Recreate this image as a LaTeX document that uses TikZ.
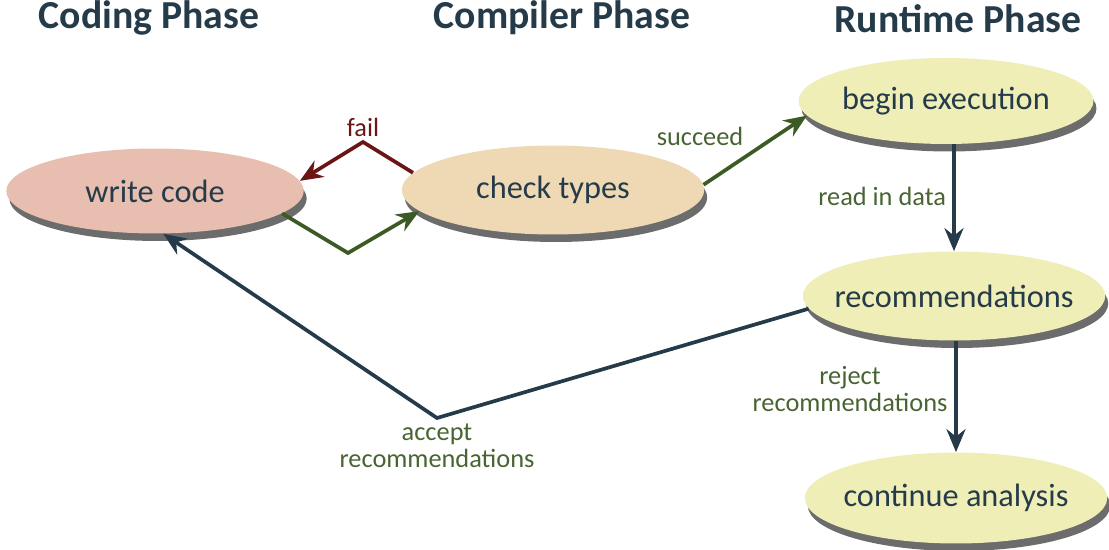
\documentclass[tikz,border=0pt]{standalone}
\usepackage{fontspec}
\setmainfont{Carlito}
\usepackage{tikz}
\usetikzlibrary{positioning,arrows.meta,shapes.geometric,shadows}

\definecolor{inkdark}{RGB}{37,59,74}
\definecolor{codefill}{RGB}{232,190,177}
\definecolor{checkfill}{RGB}{238,217,180}
\definecolor{runfill}{RGB}{239,238,182}
\definecolor{okgreen}{RGB}{60,90,35}
\definecolor{labelgreen}{RGB}{72,100,50}
\definecolor{failred}{RGB}{107,22,22}
\definecolor{shadowgray}{RGB}{108,108,108}

\begin{document}
\begin{tikzpicture}[
x=0.02cm, y=-0.02cm,
phase/.style={font=\fontsize{22.6}{26}\selectfont\bfseries, text=inkdark},
stage/.style={ellipse, minimum width=5.95cm, minimum height=1.7cm, inner xsep=-0.35cm, inner ysep=0pt, font=\fontsize{18.4}{22}\selectfont, text=inkdark, drop shadow={shadow xshift=0.06cm, shadow yshift=-0.15cm, fill=shadowgray, opacity=1}},
tag/.style={font=\fontsize{15}{15.5}\selectfont, text=labelgreen, align=center, inner sep=1pt},
arrow/.style={-{Stealth[length=4.6mm, width=3.8mm, inset=1.5mm]}, line width=2.1pt, line join=miter}
]
\useasboundingbox (0,0) rectangle (1109,550);
% phase titles
\node[phase] (codingT) at (149,18) {Coding Phase};
\node[phase] (compilerT) at (562,18) {Compiler Phase};
\node[phase] (runtimeT) at (958,19) {Runtime Phase};
% stages
\node[stage, fill=codefill] (code) at (155,191) {write code};
\node[stage, fill=checkfill, minimum width=6.05cm, minimum height=1.78cm] (check) at (553,190) {check types};
\node[stage, fill=runfill, minimum width=5.9cm, minimum height=1.72cm] (begin) at (946,101) {begin execution};
\node[stage, fill=runfill, minimum width=6.05cm, minimum height=1.78cm] (recs) at (954,296) {recommendations};
\node[stage, fill=runfill, minimum width=6.05cm, minimum height=1.82cm] (cont) at (956,498) {continue analysis};
% bend points
\coordinate (failtop) at (363,142);
\coordinate (passlow) at (348,253);
\coordinate (acclow) at (437,418);
% connectors
\draw[arrow, failred] (check.173) -- (failtop) -- (code.4);
\draw[arrow, okgreen] (code.-10) -- (passlow) -- (check.189);
\draw[arrow, okgreen] (check.2) -- (begin.186);
\draw[arrow, inkdark] (begin.south -| recs) -- (recs.north);
\draw[arrow, inkdark] (recs.south -| cont) -- (cont.north);
\draw[arrow, inkdark] (recs.185) -- (acclow) -- (code.-79);
% labels
\node[tag, text=failred] (failL) at (363,127) {fail};
\node[tag] (succL) at (700,136) {succeed};
\node[tag, anchor=east] (readL) at (948,196) {read in data};
\node[tag] (rejectL) at (850,389) {reject\\recommendations};
\node[tag] (acceptL) at (437,446) {accept\\recommendations};
\end{tikzpicture}
\end{document}
